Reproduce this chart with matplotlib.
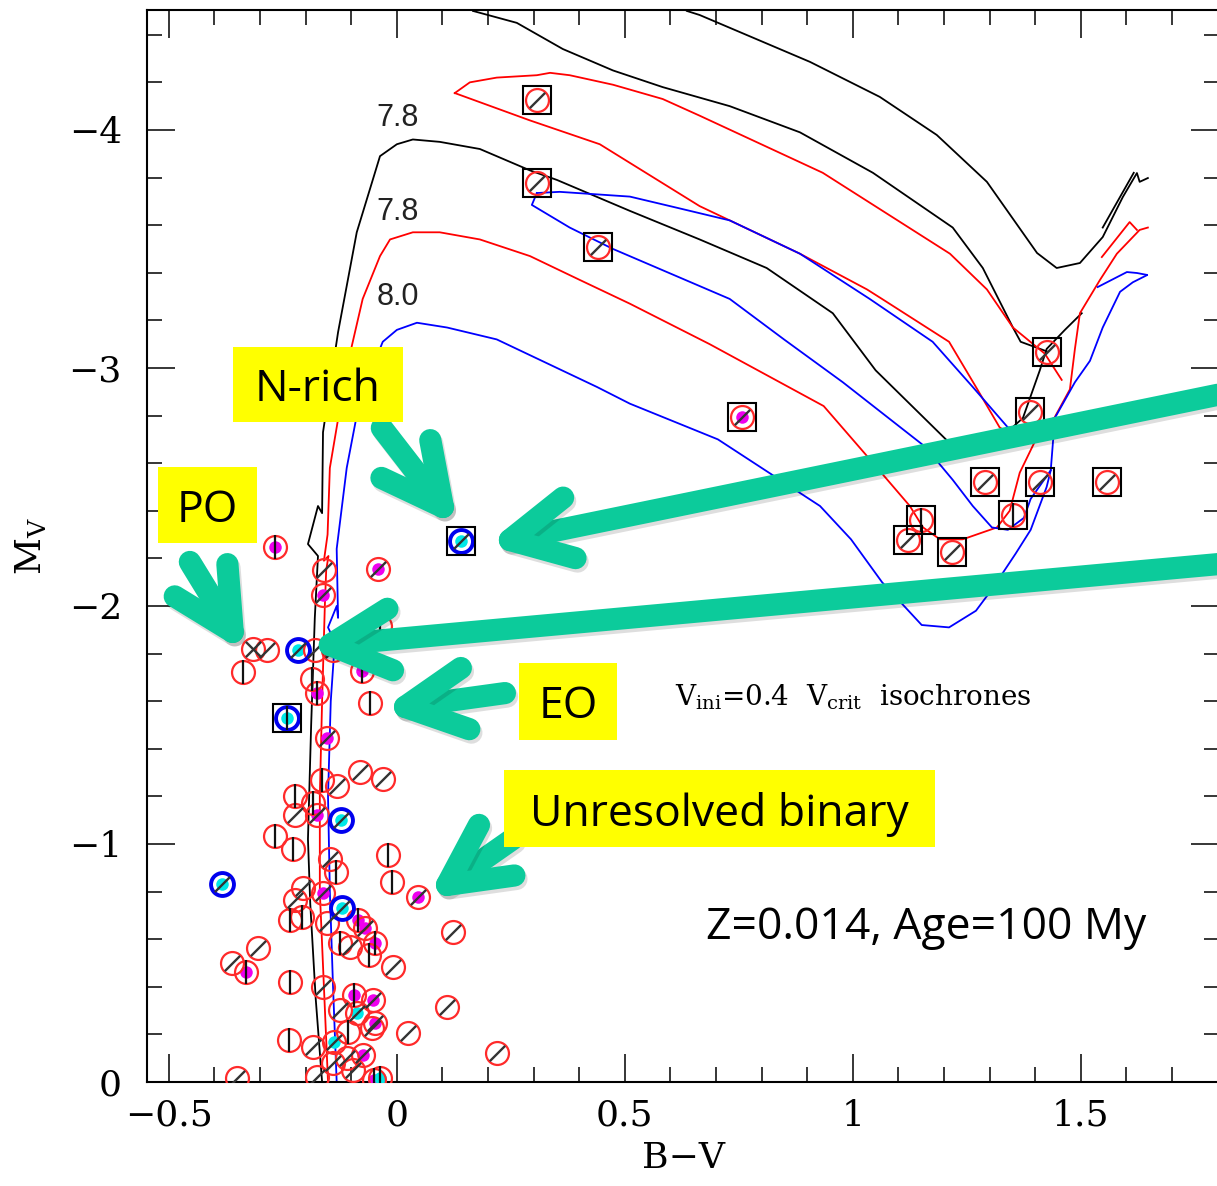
import numpy as np
import matplotlib.pyplot as plt
import matplotlib.patheffects as pe
from matplotlib.path import Path
from matplotlib.patches import Rectangle
from matplotlib.ticker import MultipleLocator

plt.rcParams['font.family'] = ['DejaVu Serif']
plt.rcParams['mathtext.fontset'] = 'dejavuserif'

# ---- isochrones (B-V, M_V) ----
black_ms_bv = [-0.164, -0.178, -0.190, -0.195, -0.188, -0.180, -0.173, -0.195, -0.173, -0.164,
               -0.162, -0.129, -0.088, -0.037, 0.000, 0.035, 0.094, 0.182, 0.292, 0.351,
               0.511, 0.664, 0.811, 0.956, 1.050, 1.204, 1.250, 1.285, 1.344, 1.373,
               1.410, 1.425, 1.465, 1.502]
black_ms_mv = [0.0, -0.35, -0.75, -1.02, -1.50, -1.95, -2.21, -2.26, -2.42, -2.39,
               -2.73, -3.15, -3.57, -3.89, -3.94, -3.96, -3.95, -3.92, -3.83, -3.79,
               -3.66, -3.54, -3.42, -3.23, -2.99, -2.70, -2.64, -2.66, -2.74, -2.79,
               -2.99, -3.08, -3.16, -3.23]
black_mid_bv = [0.167, 0.263, 0.364, 0.474, 0.583, 0.730, 0.884, 1.044, 1.219, 1.285, 1.351, 1.368, 1.425]
black_mid_mv = [-4.50, -4.45, -4.34, -4.25, -4.18, -4.10, -3.99, -3.82, -3.59, -3.42, -3.17, -3.11, -3.07]
black_top_bv = [0.636, 0.664, 0.906, 1.059, 1.184, 1.294, 1.404, 1.447, 1.498, 1.548, 1.592, 1.623, 1.629, 1.647]
black_top_mv = [-4.50, -4.483, -4.286, -4.139, -3.979, -3.782, -3.483, -3.420, -3.441, -3.550, -3.718, -3.819, -3.782, -3.798]
black_tip_bv = [1.548, 1.616]
black_tip_mv = [-3.59, -3.82]

red_ms_bv = [-0.151, -0.160, -0.169, -0.169, -0.164, -0.158, -0.155, -0.150, -0.160, -0.152,
             -0.147, -0.110, -0.075, -0.037, -0.015, 0.035, 0.094, 0.182, 0.292, 0.401,
             0.511, 0.686, 0.936, 1.031, 1.125, 1.154, 1.191, 1.241, 1.316, 1.344,
             1.366, 1.404, 1.439, 1.476, 1.487, 1.498, 1.542, 1.579, 1.629, 1.647]
red_ms_mv = [0.0, -0.40, -0.80, -1.20, -1.60, -2.00, -2.15, -2.21, -2.19, -2.30,
             -2.58, -3.00, -3.29, -3.47, -3.54, -3.57, -3.57, -3.54, -3.47, -3.37,
             -3.27, -3.10, -2.84, -2.63, -2.42, -2.33, -2.28, -2.28, -2.33, -2.40,
             -2.56, -2.71, -2.78, -2.91, -3.08, -3.23, -3.37, -3.48, -3.58, -3.59]
red_up_bv = [0.127, 0.160, 0.219, 0.307, 0.336, 0.379, 0.474, 0.583, 0.664, 0.934, 1.213, 1.294, 1.351, 1.421, 1.458]
red_up_mv = [-4.155, -4.20, -4.22, -4.23, -4.24, -4.23, -4.19, -4.13, -4.06, -3.82, -3.48, -3.33, -3.17, -3.06, -2.95]
red_lo_bv = [0.127, 0.292, 0.445, 0.664, 0.884, 1.031, 1.064, 1.211, 1.270, 1.322, 1.373, 1.404]
red_lo_mv = [-4.155, -4.04, -3.94, -3.68, -3.48, -3.33, -3.29, -3.11, -2.92, -2.75, -2.69, -2.71]
red_tip_bv = [1.546, 1.607, 1.623]
red_tip_mv = [-3.466, -3.613, -3.580]

blue_ms_bv = [-0.132, -0.140, -0.147, -0.151, -0.145, -0.136, -0.151, -0.132, -0.129, -0.132,
              -0.110, -0.081, -0.031, 0.000, 0.044, 0.110, 0.219, 0.329, 0.439, 0.511,
              0.704, 0.928, 0.996, 1.064, 1.151, 1.211, 1.270, 1.305, 1.357, 1.390,
              1.425, 1.434, 1.443, 1.487, 1.520, 1.548, 1.586, 1.614, 1.645]
blue_ms_mv = [0.0, -0.40, -0.80, -1.20, -1.60, -1.85, -1.91, -2.00, -1.95, -2.24,
              -2.58, -2.87, -3.11, -3.16, -3.19, -3.17, -3.12, -3.02, -2.92, -2.85,
              -2.70, -2.42, -2.28, -2.10, -1.92, -1.91, -1.98, -2.07, -2.22, -2.32,
              -2.50, -2.57, -2.79, -2.94, -3.03, -3.17, -3.32, -3.36, -3.39]
blue_up_bv = [0.307, 0.357, 0.511, 0.621, 0.730, 0.884, 1.037, 1.175, 1.263, 1.340, 1.375, 1.443]
blue_up_mv = [-3.735, -3.74, -3.72, -3.67, -3.62, -3.48, -3.29, -3.11, -2.92, -2.75, -2.75, -2.79]
blue_lo_bv = [0.307, 0.296, 0.379, 0.474, 0.730, 0.849, 0.978, 1.158, 1.219, 1.263, 1.305, 1.340, 1.375, 1.390, 1.434]
blue_lo_mv = [-3.735, -3.685, -3.59, -3.50, -3.29, -3.12, -2.94, -2.67, -2.53, -2.42, -2.33, -2.32, -2.37, -2.45, -2.57]
blue_tip_bv = [1.537, 1.601, 1.623, 1.645]
blue_tip_mv = [-3.340, -3.403, -3.399, -3.391]

iso_labels = ['7.8', '7.8', '8.0']
iso_label_mv = [-4.05, -3.655, -3.30]

# ---- stars ----
star_bv = [0.307, 0.307, 0.441, 0.757, 1.425, 1.388, 1.289, 1.410, 1.557, 1.351,
           1.149, 1.121, 1.217, 0.140, -0.241, -0.268, -0.042, -0.160, -0.162, -0.037,
           -0.316, -0.285, -0.217, -0.180, -0.140, -0.338, -0.077, -0.186, -0.175, -0.059,
           -0.154, -0.081, -0.031, -0.164, -0.132, -0.224, -0.184, -0.224, -0.175, -0.123,
           -0.268, -0.228, -0.147, -0.134, -0.020, -0.011, -0.384, 0.046, -0.206, -0.224,
           -0.162, -0.121, -0.235, -0.208, -0.154, -0.086, -0.070, 0.123, -0.125, -0.103,
           -0.048, -0.061, -0.305, -0.009, -0.362, -0.331, -0.235, -0.162, -0.094, -0.053,
           -0.125, -0.088, -0.048, 0.110, 0.024, -0.055, -0.107, -0.237, -0.184, -0.138,
           -0.075, -0.110, -0.140, -0.037, -0.351, -0.175, -0.096, 0.219, -0.050]
star_mv = [-4.126, -3.777, -3.508, -2.794, -3.067, -2.815, -2.521, -2.521, -2.521, -2.382,
           -2.361, -2.277, -2.227, -2.273, -1.529, -2.248, -2.155, -2.151, -2.046, -1.916,
           -1.819, -1.815, -1.815, -1.815, -1.815, -1.723, -1.727, -1.693, -1.634, -1.592,
           -1.445, -1.303, -1.273, -1.269, -1.244, -1.202, -1.172, -1.122, -1.122, -1.101,
           -1.034, -0.979, -0.937, -0.882, -0.954, -0.840, -0.832, -0.777, -0.815, -0.765,
           -0.794, -0.731, -0.681, -0.693, -0.668, -0.681, -0.647, -0.630, -0.584, -0.567,
           -0.584, -0.534, -0.563, -0.483, -0.500, -0.462, -0.420, -0.399, -0.366, -0.345,
           -0.303, -0.290, -0.248, -0.315, -0.206, -0.227, -0.210, -0.176, -0.147, -0.168,
           -0.113, -0.101, -0.080, -0.017, -0.017, -0.021, -0.050, -0.122, -0.010]
star_line = ['/', '/', '/', '/', '/', '/', '/', '/', '/', '|',
             '|', '/', '/', '/', '|', '|', '/', '/', '/', '|',
             'x', '/', '/', '/', '/', '|', '|', '|', '|', '|',
             '/', '/', '/', '|', '/', '|', '|', '/', '/', '/',
             '|', '|', '/', '|', '|', '|', '/', '/', '/', '/',
             '/', '/', '|', '|', '/', '|', '/', '/', '|', '/',
             '|', '|', '/', '/', '/', '|', '|', '/', '|', '/',
             '/', '/', '/', '/', '/', '/', '|', '|', '/', '/',
             '/', '/', '/', '|', '/', '/', '/', '/', '|']
star_core = ['', '', '', 'm', '', '', '', '', '', '',
             '', '', '', 'c', 'c', 'm', 'm', '', 'm', '',
             '', '', 'c', '', '', '', 'm', '', 'm', '',
             'm', '', '', '', '', '', '', '', 'm', 'c',
             '', '', '', '', '', '', 'c', 'm', '', '',
             'm', 'c', '', '', '', 'm', 'm', '', '', '',
             'm', '', '', '', '', 'm', '', '', 'm', 'm',
             '', 'c', 'm', '', '', '', '', '', '', 'c',
             'm', '', '', 'c', '', '', '', '', 'm']
star_ring = ['r'] * len(star_bv)
for i in (13, 14, 22, 39, 46, 51):
    star_ring[i] = 'b'
boxed = list(range(15))

# ---- annotations ----
box_texts = ['N-rich', 'PO', 'EO', 'Unresolved binary']
box_x0 = [-0.360, -0.524, 0.268, 0.235]
box_x1 = [0.013, -0.307, 0.482, 1.180]
box_y0 = [-3.088, -2.584, -1.761, -1.311]
box_y1 = [-2.773, -2.265, -1.437, -0.987]
arrow_tail = [(-0.033, -2.748), (1.83, -2.899), (1.83, -2.181), (-0.454, -2.185), (0.237, -1.634), (0.254, -1.021)]
arrow_tip = [(0.101, -2.416), (0.248, -2.277), (-0.147, -1.836), (-0.360, -1.891), (0.018, -1.576), (0.110, -0.828)]

fig = plt.figure(figsize=(12.17, 11.86), dpi=100)
ax = fig.add_axes([147 / 1217, 104 / 1186, 1072 / 1217, 1072 / 1186])
ax.set_xlim(-0.548, 1.803)
ax.set_ylim(0, -4.504)

iso = [(black_ms_bv, black_ms_mv, 'black'), (black_mid_bv, black_mid_mv, 'black'),
       (black_top_bv, black_top_mv, 'black'), (black_tip_bv, black_tip_mv, 'black'),
       (red_ms_bv, red_ms_mv, 'red'), (red_up_bv, red_up_mv, 'red'),
       (red_lo_bv, red_lo_mv, 'red'), (red_tip_bv, red_tip_mv, 'red'),
       (blue_ms_bv, blue_ms_mv, 'blue'), (blue_up_bv, blue_up_mv, 'blue'),
       (blue_lo_bv, blue_lo_mv, 'blue'), (blue_tip_bv, blue_tip_mv, 'blue')]
for bv, mv, c in iso:
    ax.plot(bv, mv, color=c, lw=1.3, zorder=2)

for lab, mv in zip(iso_labels, iso_label_mv):
    ax.text(0.002, mv, lab, family='Liberation Sans', fontsize=22, color='#222222',
            ha='center', va='center', zorder=3)

bv = np.array(star_bv)
mv = np.array(star_mv)
line = np.array(star_line)
core = np.array(star_core)
ring = np.array(star_ring)

slash = Path([(-1, -1), (1, 1)], [Path.MOVETO, Path.LINETO])
bslash = Path([(-1, 1), (1, -1)], [Path.MOVETO, Path.LINETO])

m = core == 'm'
ax.plot(bv[m], mv[m], 'o', ms=9, mfc='#ee00ee', mec='none', zorder=3)
m = core == 'c'
ax.plot(bv[m], mv[m], 'o', ms=9, mfc='#00e8e8', mec='none', zorder=3)
m = ring == 'r'
ax.plot(bv[m], mv[m], 'o', ms=16.5, mfc='none', mec='#ff2a2a', mew=1.6, zorder=4)
m = ring == 'b'
ax.plot(bv[m], mv[m], 'o', ms=16.5, mfc='none', mec='#0000ee', mew=2.8, zorder=4)
m = line == '|'
ax.plot(bv[m], mv[m], '|', ms=17, mec='#111111', mew=1.6, zorder=4)
m = (line == '/') | (line == 'x')
ax.plot(bv[m], mv[m], marker=slash, ls='none', ms=11, mec='#333333', mew=1.7, zorder=4)
m = line == 'x'
ax.plot(bv[m], mv[m], marker=bslash, ls='none', ms=11, mec='#333333', mew=1.7, zorder=4)
ax.plot(bv[boxed], mv[boxed], 's', ms=20, mfc='none', mec='black', mew=1.5, zorder=4)

# tick styling
ax.xaxis.set_major_locator(MultipleLocator(0.5))
ax.xaxis.set_minor_locator(MultipleLocator(0.1))
ax.yaxis.set_major_locator(MultipleLocator(1))
ax.yaxis.set_minor_locator(MultipleLocator(0.2))
ax.tick_params(which='both', direction='in', top=True, right=True, width=1.1, labelsize=26)
ax.tick_params(which='major', length=20)
ax.tick_params(which='minor', length=11)
ax.tick_params(axis='x', pad=12)
ax.tick_params(axis='y', pad=18)
ax.xaxis.set_major_formatter(plt.FuncFormatter(lambda v, p: ('%g' % v).replace('-', '\u2212')))
ax.yaxis.set_major_formatter(plt.FuncFormatter(lambda v, p: ('%g' % v).replace('-', '\u2212')))
for s in ax.spines.values():
    s.set_linewidth(1.5)
ax.set_xlabel('B\u2212V', fontsize=26, labelpad=6)
ax.set_ylabel(r'M$_{\rm V}$', fontsize=26, labelpad=14)

ax.text(0.610, -1.618, r'V$_{\rm ini}$=0.4  V$_{\rm crit}$  isochrones', fontsize=20,
        ha='left', va='center', zorder=3)
ax.text(0.677, -0.60, 'Z=0.014, Age=100 My', family='Open Sans', fontsize=32,
        ha='left', va='baseline', zorder=7)

# yellow labels
for t, x0, x1, y0, y1 in zip(box_texts, box_x0, box_x1, box_y0, box_y1):
    ax.add_patch(Rectangle((x0, y0), x1 - x0, y1 - y0, fc='#ffff00', ec='none', zorder=6))
    ax.text((x0 + x1) / 2, (y0 + y1) / 2, t, family='Open Sans', fontsize=32,
            ha='center', va='center_baseline', zorder=7)

# teal chevron arrows
T = ax.transData
Ti = T.inverted()
arm_px = 68
ang = np.radians(27)
for tail, tip in zip(arrow_tail, arrow_tip):
    p0 = T.transform(tail)
    p1 = T.transform(tip)
    d = (p0 - p1) / np.hypot(*(p0 - p1))
    arms = []
    for s in (1, -1):
        c, sn = np.cos(s * ang), np.sin(s * ang)
        r = np.array([c * d[0] - sn * d[1], sn * d[0] + c * d[1]])
        arms.append(Ti.transform(p1 + arm_px * r))
    fx = [tail[0], tip[0]]
    fy = [tail[1], tip[1]]
    hx = [arms[0][0], tip[0], arms[1][0]]
    hy = [arms[0][1], tip[1], arms[1][1]]
    for xs, ys in ((fx, fy), (hx, hy)):
        ax.plot(xs, ys, color='#0ccb9b', lw=16, solid_capstyle='round',
                solid_joinstyle='round', zorder=5,
                path_effects=[pe.SimpleLineShadow(offset=(1.5, -2.5), shadow_color='black', alpha=0.13),
                              pe.Normal()])

fig.savefig('out.png', dpi=100)
